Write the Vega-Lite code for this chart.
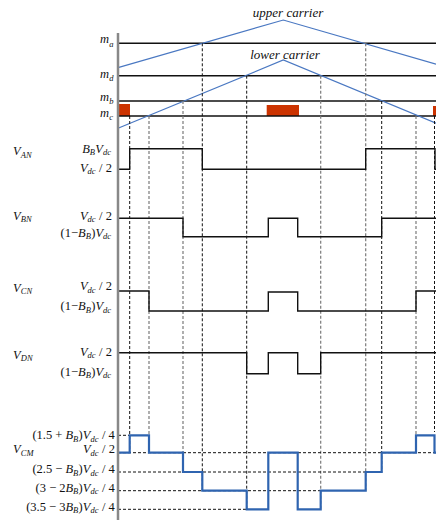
{
 "$schema": "https://vega.github.io/schema/vega-lite/v6.json",
 "width": 436, "height": 520, "padding": 0, "autosize": {"type": "none"},
 "background": "white",
 "config": {"view": {"stroke": null}},
 "datasets": {
  "red": [
   {"x": 118, "x2": 130, "y": 104, "y2": 116},
   {"x": 266.7, "x2": 299, "y": 105, "y2": 116},
   {"x": 433, "x2": 436, "y": 106, "y2": 116}
  ],
  "mlines": [
   {"x": 118, "x2": 436, "y": 43.3},
   {"x": 118, "x2": 436, "y": 75.7},
   {"x": 118, "x2": 436, "y": 101},
   {"x": 118, "x2": 436, "y": 116}
  ],
  "carriers": [
   {"s": "upper", "i": 1, "x": 118, "y": 67.7},
   {"s": "upper", "i": 2, "x": 283.3, "y": 20},
   {"s": "upper", "i": 3, "x": 436, "y": 64.2},
   {"s": "lower", "i": 1, "x": 118, "y": 128.3},
   {"s": "lower", "i": 2, "x": 283.3, "y": 60},
   {"s": "lower", "i": 3, "x": 436, "y": 123.2}
  ],
  "dv": [
   {"x": 129.7, "y": 116, "y2": 452.7, "g": "k"},
   {"x": 149, "y": 116, "y2": 452.7, "g": "g"},
   {"x": 183, "y": 101, "y2": 472, "g": "g"},
   {"x": 202.3, "y": 43.3, "y2": 490.7, "g": "k"},
   {"x": 246.7, "y": 75.7, "y2": 509.3, "g": "k"},
   {"x": 320.7, "y": 75.7, "y2": 509.3, "g": "g"},
   {"x": 365.7, "y": 43.3, "y2": 490.7, "g": "g"},
   {"x": 381.7, "y": 101, "y2": 472, "g": "k"},
   {"x": 416, "y": 116, "y2": 452.7, "g": "g"},
   {"x": 434.5, "y": 116, "y2": 432, "g": "k"}
  ],
  "dh": [
   {"x": 118, "x2": 129.7, "y": 435.3},
   {"x": 118, "x2": 436, "y": 452.7},
   {"x": 118, "x2": 365.7, "y": 472},
   {"x": 118, "x2": 320.7, "y": 490.7},
   {"x": 118, "x2": 246.7, "y": 509.3}
  ],
  "waves": [
   {"s": "AN", "i": 1, "x": 118, "y": 169.3},
   {"s": "AN", "i": 2, "x": 129.7, "y": 169.3},
   {"s": "AN", "i": 3, "x": 129.7, "y": 148.7},
   {"s": "AN", "i": 4, "x": 202.3, "y": 148.7},
   {"s": "AN", "i": 5, "x": 202.3, "y": 169.3},
   {"s": "AN", "i": 6, "x": 365.7, "y": 169.3},
   {"s": "AN", "i": 7, "x": 365.7, "y": 148.7},
   {"s": "AN", "i": 8, "x": 435, "y": 148.7},
   {"s": "AN", "i": 9, "x": 435, "y": 169.3},
   {"s": "AN", "i": 10, "x": 436, "y": 169.3},
   {"s": "BN", "i": 1, "x": 118, "y": 218.3},
   {"s": "BN", "i": 2, "x": 183, "y": 218.3},
   {"s": "BN", "i": 3, "x": 183, "y": 236.7},
   {"s": "BN", "i": 4, "x": 268.3, "y": 236.7},
   {"s": "BN", "i": 5, "x": 268.3, "y": 218.3},
   {"s": "BN", "i": 6, "x": 297.7, "y": 218.3},
   {"s": "BN", "i": 7, "x": 297.7, "y": 236.7},
   {"s": "BN", "i": 8, "x": 381.7, "y": 236.7},
   {"s": "BN", "i": 9, "x": 381.7, "y": 218.3},
   {"s": "BN", "i": 10, "x": 436, "y": 218.3},
   {"s": "CN", "i": 1, "x": 118, "y": 291},
   {"s": "CN", "i": 2, "x": 149, "y": 291},
   {"s": "CN", "i": 3, "x": 149, "y": 311},
   {"s": "CN", "i": 4, "x": 268.3, "y": 311},
   {"s": "CN", "i": 5, "x": 268.3, "y": 292},
   {"s": "CN", "i": 6, "x": 297.7, "y": 292},
   {"s": "CN", "i": 7, "x": 297.7, "y": 311},
   {"s": "CN", "i": 8, "x": 416, "y": 311},
   {"s": "CN", "i": 9, "x": 416, "y": 291},
   {"s": "CN", "i": 10, "x": 436, "y": 291},
   {"s": "DN", "i": 1, "x": 118, "y": 352.7},
   {"s": "DN", "i": 2, "x": 246.7, "y": 352.7},
   {"s": "DN", "i": 3, "x": 246.7, "y": 373.7},
   {"s": "DN", "i": 4, "x": 268.3, "y": 373.7},
   {"s": "DN", "i": 5, "x": 268.3, "y": 352.7},
   {"s": "DN", "i": 6, "x": 297.7, "y": 352.7},
   {"s": "DN", "i": 7, "x": 297.7, "y": 373.7},
   {"s": "DN", "i": 8, "x": 320.7, "y": 373.7},
   {"s": "DN", "i": 9, "x": 320.7, "y": 352.7},
   {"s": "DN", "i": 10, "x": 436, "y": 352.7}
  ],
  "vcm": [
   {"i": 1, "x": 118, "y": 452.7},
   {"i": 2, "x": 129.7, "y": 452.7},
   {"i": 3, "x": 129.7, "y": 435.3},
   {"i": 4, "x": 149, "y": 435.3},
   {"i": 5, "x": 149, "y": 452.7},
   {"i": 6, "x": 183, "y": 452.7},
   {"i": 7, "x": 183, "y": 472},
   {"i": 8, "x": 202.3, "y": 472},
   {"i": 9, "x": 202.3, "y": 490.7},
   {"i": 10, "x": 246.7, "y": 490.7},
   {"i": 11, "x": 246.7, "y": 509.3},
   {"i": 12, "x": 268.3, "y": 509.3},
   {"i": 13, "x": 268.3, "y": 452.7},
   {"i": 14, "x": 297.7, "y": 452.7},
   {"i": 15, "x": 297.7, "y": 509.3},
   {"i": 16, "x": 320.7, "y": 509.3},
   {"i": 17, "x": 320.7, "y": 490.7},
   {"i": 18, "x": 365.7, "y": 490.7},
   {"i": 19, "x": 365.7, "y": 472},
   {"i": 20, "x": 381.7, "y": 472},
   {"i": 21, "x": 381.7, "y": 452.7},
   {"i": 22, "x": 416, "y": 452.7},
   {"i": 23, "x": 416, "y": 435.3},
   {"i": 24, "x": 434.5, "y": 435.3},
   {"i": 25, "x": 434.5, "y": 452.7},
   {"i": 26, "x": 436, "y": 452.7}
  ],
  "axis": [{"x": 118, "y": 33, "y2": 520}],
  "labels": [
   {"x": 288, "y": 17, "t": "upper carrier", "p": "car"},
   {"x": 285, "y": 59, "t": "lower carrier", "p": "car"},
   {"x": 100, "y": 42.5, "t": "m", "p": "it"}, {"x": 109.2, "y": 47, "t": "a", "p": "sb"},
   {"x": 100, "y": 78, "t": "m", "p": "it"}, {"x": 109.2, "y": 80.5, "t": "d", "p": "sb"},
   {"x": 100, "y": 100.5, "t": "m", "p": "it"}, {"x": 109.2, "y": 103.5, "t": "b", "p": "sb"},
   {"x": 100, "y": 117, "t": "m", "p": "it"}, {"x": 109.2, "y": 119.5, "t": "c", "p": "sb"},
   {"x": 13, "y": 155, "t": "V", "p": "it"}, {"x": 20.8, "y": 157.5, "t": "AN", "p": "sb"},
   {"x": 13, "y": 219.5, "t": "V", "p": "it"}, {"x": 20.8, "y": 222, "t": "BN", "p": "sb"},
   {"x": 13, "y": 291.5, "t": "V", "p": "it"}, {"x": 20.8, "y": 294, "t": "CN", "p": "sb"},
   {"x": 13, "y": 358.5, "t": "V", "p": "it"}, {"x": 20.8, "y": 361, "t": "DN", "p": "sb"},
   {"x": 13, "y": 453, "t": "V", "p": "it"}, {"x": 20.8, "y": 455.5, "t": "CM", "p": "sb"},
   {"x": 82.2, "y": 152.5, "t": "B", "p": "it"}, {"x": 89.8, "y": 155, "t": "B", "p": "sb"},
   {"x": 95.3, "y": 152.5, "t": "V", "p": "it"}, {"x": 102.9, "y": 155, "t": "dc", "p": "sb"},
   {"x": 79.9, "y": 171.7, "t": "V", "p": "it"}, {"x": 87.5, "y": 174.2, "t": "dc", "p": "sb"}, {"x": 99.1, "y": 171.7, "t": "/ 2", "p": "rm"},
   {"x": 79.9, "y": 219.5, "t": "V", "p": "it"}, {"x": 87.5, "y": 222, "t": "dc", "p": "sb"}, {"x": 99.1, "y": 219.5, "t": "/ 2", "p": "rm"},
   {"x": 79.9, "y": 290.2, "t": "V", "p": "it"}, {"x": 87.5, "y": 292.7, "t": "dc", "p": "sb"}, {"x": 99.1, "y": 290.2, "t": "/ 2", "p": "rm"},
   {"x": 79.9, "y": 355.5, "t": "V", "p": "it"}, {"x": 87.5, "y": 358, "t": "dc", "p": "sb"}, {"x": 99.1, "y": 355.5, "t": "/ 2", "p": "rm"},
   {"x": 60.6, "y": 236.5, "t": "(1−", "p": "rm"}, {"x": 78.1, "y": 236.5, "t": "B", "p": "it"}, {"x": 85.7, "y": 239, "t": "B", "p": "sb"}, {"x": 91.2, "y": 236.5, "t": ")", "p": "rm"}, {"x": 95.4, "y": 236.5, "t": "V", "p": "it"}, {"x": 103, "y": 239, "t": "dc", "p": "sb"},
   {"x": 60.6, "y": 310, "t": "(1−", "p": "rm"}, {"x": 78.1, "y": 310, "t": "B", "p": "it"}, {"x": 85.7, "y": 312.5, "t": "B", "p": "sb"}, {"x": 91.2, "y": 310, "t": ")", "p": "rm"}, {"x": 95.4, "y": 310, "t": "V", "p": "it"}, {"x": 103, "y": 312.5, "t": "dc", "p": "sb"},
   {"x": 60.6, "y": 375.5, "t": "(1−", "p": "rm"}, {"x": 78.1, "y": 375.5, "t": "B", "p": "it"}, {"x": 85.7, "y": 378, "t": "B", "p": "sb"}, {"x": 91.2, "y": 375.5, "t": ")", "p": "rm"}, {"x": 95.4, "y": 375.5, "t": "V", "p": "it"}, {"x": 103, "y": 378, "t": "dc", "p": "sb"},
   {"x": 32.4, "y": 439, "t": "(1.5 +", "p": "rm"}, {"x": 65.5, "y": 439, "t": "B", "p": "it"}, {"x": 73.1, "y": 441.5, "t": "B", "p": "sb"}, {"x": 78.6, "y": 439, "t": ")", "p": "rm"}, {"x": 82.8, "y": 439, "t": "V", "p": "it"}, {"x": 90.4, "y": 441.5, "t": "dc", "p": "sb"}, {"x": 102, "y": 439, "t": "/ 4", "p": "rm"},
   {"x": 82.9, "y": 453.3, "t": "V", "p": "it"}, {"x": 90.5, "y": 455.8, "t": "dc", "p": "sb"}, {"x": 102.1, "y": 453.3, "t": "/ 2", "p": "rm"},
   {"x": 32.4, "y": 473.3, "t": "(2.5 −", "p": "rm"}, {"x": 65.5, "y": 473.3, "t": "B", "p": "it"}, {"x": 73.1, "y": 475.8, "t": "B", "p": "sb"}, {"x": 78.6, "y": 473.3, "t": ")", "p": "rm"}, {"x": 82.8, "y": 473.3, "t": "V", "p": "it"}, {"x": 90.4, "y": 475.8, "t": "dc", "p": "sb"}, {"x": 102, "y": 473.3, "t": "/ 4", "p": "rm"},
   {"x": 35.6, "y": 491.7, "t": "(3 − 2", "p": "rm"}, {"x": 65.5, "y": 491.7, "t": "B", "p": "it"}, {"x": 73.1, "y": 494.2, "t": "B", "p": "sb"}, {"x": 78.6, "y": 491.7, "t": ")", "p": "rm"}, {"x": 82.8, "y": 491.7, "t": "V", "p": "it"}, {"x": 90.4, "y": 494.2, "t": "dc", "p": "sb"}, {"x": 102, "y": 491.7, "t": "/ 4", "p": "rm"},
   {"x": 26.2, "y": 510.7, "t": "(3.5 − 3", "p": "rm"}, {"x": 65.5, "y": 510.7, "t": "B", "p": "it"}, {"x": 73.1, "y": 513.2, "t": "B", "p": "sb"}, {"x": 78.6, "y": 510.7, "t": ")", "p": "rm"}, {"x": 82.8, "y": 510.7, "t": "V", "p": "it"}, {"x": 90.4, "y": 513.2, "t": "dc", "p": "sb"}, {"x": 102, "y": 510.7, "t": "/ 4", "p": "rm"}
  ]
 },
 "layer": [
  {
   "data": {"name": "red"},
   "mark": {"type": "rect", "color": "#cc3300"},
   "encoding": {
    "x": {"field": "x", "type": "quantitative", "scale": {"domain": [0, 436], "nice": false, "zero": false}, "axis": null},
    "x2": {"field": "x2"},
    "y": {"field": "y", "type": "quantitative", "scale": {"domain": [0, 520], "nice": false, "zero": false, "reverse": true}, "axis": null},
    "y2": {"field": "y2"}
   }
  },
  {
   "data": {"name": "mlines"},
   "mark": {"type": "rule", "color": "#111111", "strokeWidth": 1.4},
   "encoding": {
    "x": {"field": "x", "type": "quantitative"},
    "x2": {"field": "x2"},
    "y": {"field": "y", "type": "quantitative"}
   }
  },
  {
   "data": {"name": "carriers"},
   "mark": {"type": "line", "color": "#4a78c2", "strokeWidth": 1.2},
   "encoding": {
    "x": {"field": "x", "type": "quantitative"},
    "y": {"field": "y", "type": "quantitative"},
    "detail": {"field": "s"},
    "order": {"field": "i"}
   }
  },
  {
   "data": {"name": "dv"},
   "transform": [{"filter": "datum.g == 'k'"}],
   "mark": {"type": "rule", "color": "#111111", "strokeWidth": 1, "strokeDash": [3, 2]},
   "encoding": {
    "x": {"field": "x", "type": "quantitative"},
    "y": {"field": "y", "type": "quantitative"},
    "y2": {"field": "y2"}
   }
  },
  {
   "data": {"name": "dv"},
   "transform": [{"filter": "datum.g == 'g'"}],
   "mark": {"type": "rule", "color": "#7a7a7a", "strokeWidth": 1.2, "strokeDash": [3, 2]},
   "encoding": {
    "x": {"field": "x", "type": "quantitative"},
    "y": {"field": "y", "type": "quantitative"},
    "y2": {"field": "y2"}
   }
  },
  {
   "data": {"name": "dh"},
   "mark": {"type": "rule", "color": "#111111", "strokeWidth": 1, "strokeDash": [3, 2]},
   "encoding": {
    "x": {"field": "x", "type": "quantitative"},
    "x2": {"field": "x2"},
    "y": {"field": "y", "type": "quantitative"}
   }
  },
  {
   "data": {"name": "waves"},
   "mark": {"type": "line", "color": "#111111", "strokeWidth": 1.4},
   "encoding": {
    "x": {"field": "x", "type": "quantitative"},
    "y": {"field": "y", "type": "quantitative"},
    "detail": {"field": "s"},
    "order": {"field": "i"}
   }
  },
  {
   "data": {"name": "vcm"},
   "mark": {"type": "line", "color": "#2f64b0", "strokeWidth": 2.2},
   "encoding": {
    "x": {"field": "x", "type": "quantitative"},
    "y": {"field": "y", "type": "quantitative"},
    "order": {"field": "i"}
   }
  },
  {
   "data": {"name": "axis"},
   "mark": {"type": "rule", "color": "#888888", "strokeWidth": 2.5},
   "encoding": {
    "x": {"field": "x", "type": "quantitative"},
    "y": {"field": "y", "type": "quantitative"},
    "y2": {"field": "y2"}
   }
  },
  {
   "data": {"name": "labels"},
   "transform": [{"filter": "datum.p == 'car'"}],
   "mark": {"type": "text", "font": "Liberation Serif", "fontStyle": "italic", "fontSize": 13, "align": "center", "baseline": "alphabetic", "color": "#111111"},
   "encoding": {
    "x": {"field": "x", "type": "quantitative"},
    "y": {"field": "y", "type": "quantitative"},
    "text": {"field": "t"}
   }
  },
  {
   "data": {"name": "labels"},
   "transform": [{"filter": "datum.p == 'it'"}],
   "mark": {"type": "text", "font": "Liberation Serif", "fontStyle": "italic", "fontSize": 12.5, "align": "left", "baseline": "alphabetic", "color": "#111111"},
   "encoding": {
    "x": {"field": "x", "type": "quantitative"},
    "y": {"field": "y", "type": "quantitative"},
    "text": {"field": "t"}
   }
  },
  {
   "data": {"name": "labels"},
   "transform": [{"filter": "datum.p == 'rm'"}],
   "mark": {"type": "text", "font": "Liberation Serif", "fontSize": 12.5, "align": "left", "baseline": "alphabetic", "color": "#111111"},
   "encoding": {
    "x": {"field": "x", "type": "quantitative"},
    "y": {"field": "y", "type": "quantitative"},
    "text": {"field": "t"}
   }
  },
  {
   "data": {"name": "labels"},
   "transform": [{"filter": "datum.p == 'sb'"}],
   "mark": {"type": "text", "font": "Liberation Serif", "fontStyle": "italic", "fontSize": 8.5, "align": "left", "baseline": "alphabetic", "color": "#111111"},
   "encoding": {
    "x": {"field": "x", "type": "quantitative"},
    "y": {"field": "y", "type": "quantitative"},
    "text": {"field": "t"}
   }
  }
 ]
}
